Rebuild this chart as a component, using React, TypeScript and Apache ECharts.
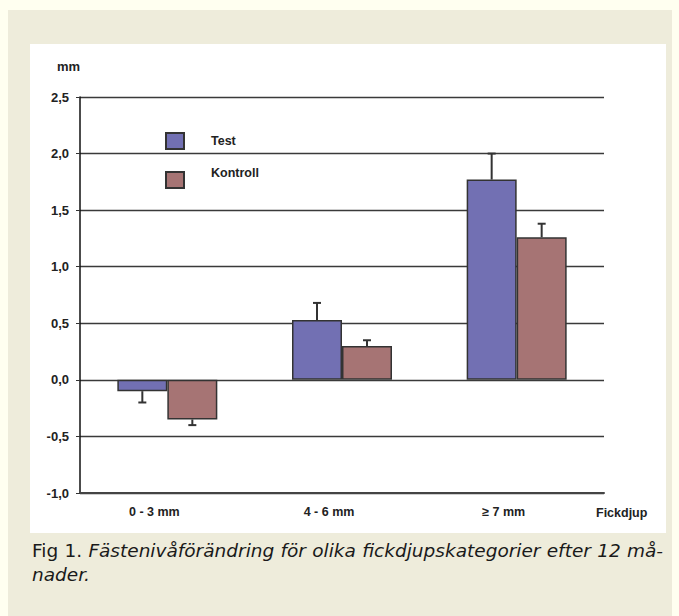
import React, { useEffect, useRef } from "react";
import * as echarts from "echarts";

const categories = ["0 - 3 mm", "4 - 6 mm", "≥ 7 mm"];
const testValues = [-0.1, 0.53, 1.77];
const testErrorEnds = [-0.2, 0.68, 2.0];
const controlValues = [-0.35, 0.3, 1.26];
const controlErrorEnds = [-0.4, 0.35, 1.38];
const seriesNames = ["Test", "Kontroll"];
const yAxisName = "mm";
const xAxisName = "Fickdjup";
const captionLead = "Fig 1.";
const captionLine1 = "Fästenivåförändring för olika fickdjupskategorier efter 12 må-";
const captionLine2 = "nader.";

const TEST_COLOR = "#7270b3";
const CONTROL_COLOR = "#a67474";
const BAR_WIDTH = 50;
const LABEL_FONT = "'Liberation Sans', Arial, sans-serif";
const CAPTION_FAMILY = "'DejaVu Sans'";
const CAPTION_SIZE = 18.5;
const CAPTION_LEFT = 32;
const CAPTION_WIDTH = 631;

function errorSeries(name: string, values: number[], ends: number[], offset: number) {
  return {
    type: "custom",
    name,
    z: 5,
    silent: true,
    data: values.map((v, i) => [i, v, ends[i]]),
    renderItem: (_params: any, api: any) => {
      const idx = api.value(0);
      const start = api.coord([idx, api.value(1)]);
      const end = api.coord([idx, api.value(2)]);
      const x = start[0] + offset;
      const style = { stroke: "#333333", lineWidth: 2 };
      return {
        type: "group",
        children: [
          { type: "line", shape: { x1: x, y1: start[1], x2: x, y2: end[1] }, style },
          { type: "line", shape: { x1: x - 4, y1: end[1], x2: x + 4, y2: end[1] }, style },
        ],
      };
    },
  };
}

function justifiedLine(): { text: string; gap: number } {
  const leadWords = captionLead.split(" ");
  const restWords = captionLine1.split(" ");
  let total = 0;
  const ctx = document.createElement("canvas").getContext("2d");
  if (ctx) {
    ctx.font = `${CAPTION_SIZE}px ${CAPTION_FAMILY}`;
    leadWords.forEach((w) => (total += ctx.measureText(w).width));
    ctx.font = `italic ${CAPTION_SIZE}px ${CAPTION_FAMILY}`;
    restWords.forEach((w) => (total += ctx.measureText(w).width));
  }
  const gaps = leadWords.length + restWords.length - 1;
  const gap = total > 0 ? Math.max(4, (CAPTION_WIDTH - total) / gaps) : 8;
  const text = [...leadWords.map((w) => `{a|${w}}`), ...restWords.map((w) => `{b|${w}}`)].join("{g| }");
  return { text, gap };
}

export default function App() {
  const ref = useRef<HTMLDivElement>(null);
  useEffect(() => {
    if (!ref.current) return;
    const chart = echarts.init(ref.current, undefined, { renderer: "svg" });
    const legendBase = {
      orient: "vertical",
      left: 165,
      padding: 0,
      itemWidth: 18,
      selectedMode: false,
    };
    const capA = { fontFamily: CAPTION_FAMILY, fontSize: CAPTION_SIZE, lineHeight: 22, fill: "#1a1a1a" };
    const capB = { ...capA, fontStyle: "italic" };
    const line1 = justifiedLine();
    const legendText = { fontFamily: LABEL_FONT, fontWeight: "bold", fontSize: 12.5, color: "#222", padding: [0, 0, 0, 22] };
    chart.setOption({
      animation: false,
      backgroundColor: "#fffff0",
      graphic: [
        { type: "rect", z: -10, shape: { x: 8, y: 10, width: 664, height: 606 }, style: { fill: "#eeecdb" } },
        { type: "rect", z: -9, shape: { x: 30, y: 44, width: 636, height: 489 }, style: { fill: "#ffffff" } },
        {
          type: "text",
          left: CAPTION_LEFT,
          top: 541,
          style: {
            text: line1.text,
            fill: "#1a1a1a",
            rich: { a: capA, b: capB, g: { ...capA, width: line1.gap } },
          },
        },
        {
          type: "text",
          left: CAPTION_LEFT,
          top: 563,
          style: { text: captionLine2, ...capB },
        },
      ],
      legend: [
        {
          ...legendBase,
          top: 132,
          icon: "rect",
          itemHeight: 16,
          data: [seriesNames[0]],
          textStyle: legendText,
        },
        {
          ...legendBase,
          top: 157,
          icon: "path://M0,0M0,14L18,14L18,30L0,30Z",
          itemHeight: 30,
          data: [seriesNames[1]],
          textStyle: legendText,
        },
      ],
      grid: { left: 80, right: 75, top: 97, bottom: 123 },
      xAxis: {
        type: "category",
        data: categories,
        name: xAxisName,
        nameLocation: "end",
        nameGap: -8,
        nameTextStyle: { fontFamily: LABEL_FONT, fontWeight: "bold", fontSize: 12.5, color: "#222", align: "left", verticalAlign: "top", lineHeight: 40 },
        axisLine: { onZero: false, lineStyle: { color: "#444", width: 2 } },
        axisTick: { show: false },
        axisLabel: { margin: 12, fontFamily: LABEL_FONT, fontWeight: "bold", fontSize: 12.5, color: "#222", padding: [0, 26, 0, 0] },
      },
      yAxis: {
        type: "value",
        min: -1,
        max: 2.5,
        interval: 0.5,
        name: yAxisName,
        nameLocation: "end",
        nameGap: 31,
        nameTextStyle: { fontFamily: LABEL_FONT, fontWeight: "bold", fontSize: 13, color: "#222", align: "right", verticalAlign: "middle" },
        axisLine: { show: true, lineStyle: { color: "#111", width: 1.5 } },
        axisTick: { show: true, length: 4, lineStyle: { color: "#333", width: 1 } },
        axisLabel: {
          margin: 11,
          fontFamily: LABEL_FONT,
          fontWeight: "bold",
          fontSize: 13,
          color: "#222",
          formatter: (v: number) => v.toFixed(1).replace(".", ","),
        },
        splitLine: { show: true, lineStyle: { color: "#3a3a3a", width: 1.3 } },
      },
      series: [
        {
          type: "bar",
          name: seriesNames[0],
          data: testValues,
          barWidth: BAR_WIDTH,
          barGap: "0%",
          itemStyle: { color: TEST_COLOR, borderColor: "#333", borderWidth: 1.5 },
        },
        {
          type: "bar",
          name: seriesNames[1],
          data: controlValues,
          barWidth: BAR_WIDTH,
          barGap: "0%",
          itemStyle: { color: CONTROL_COLOR, borderColor: "#333", borderWidth: 1.5 },
        },
        errorSeries("Test fel", testValues, testErrorEnds, -BAR_WIDTH / 2),
        errorSeries("Kontroll fel", controlValues, controlErrorEnds, BAR_WIDTH / 2),
      ],
    });
    return () => chart.dispose();
  }, []);
  return <div ref={ref} style={{ position: "fixed", left: 0, top: 0, width: 679, height: 616 }} />;
}
